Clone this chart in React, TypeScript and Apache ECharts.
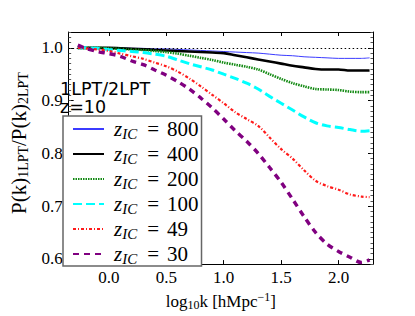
import React, { useEffect, useRef } from 'react';
import * as echarts from 'echarts';

const logK = [-0.27, -0.2, -0.1, 0.0, 0.1, 0.2, 0.3, 0.4, 0.5, 0.6, 0.7, 0.8, 0.9, 1.0, 1.1, 1.2, 1.3, 1.4, 1.5, 1.6, 1.7, 1.8, 1.9, 2.0, 2.1, 2.2, 2.27];
const zIC = ['800', '400', '200', '100', '49', '30'];
const ratio800 = [1.0, 1.0, 1.0, 1.0, 1.0, 0.999, 0.999, 0.998, 0.998, 0.997, 0.996, 0.995, 0.994, 0.993, 0.992, 0.991, 0.990, 0.988, 0.986, 0.985, 0.983, 0.982, 0.981, 0.980, 0.980, 0.980, 0.981];
const ratio400 = [1.0, 1.0, 1.0, 1.0, 0.999, 0.998, 0.997, 0.996, 0.995, 0.994, 0.993, 0.992, 0.991, 0.990, 0.986, 0.982, 0.978, 0.974, 0.970, 0.966, 0.963, 0.960, 0.959, 0.959, 0.957, 0.957, 0.957];
const ratio200 = [1.0, 1.0, 1.0, 0.999, 0.998, 0.997, 0.996, 0.994, 0.992, 0.989, 0.985, 0.981, 0.977, 0.972, 0.968, 0.964, 0.959, 0.950, 0.941, 0.933, 0.927, 0.922, 0.921, 0.920, 0.917, 0.916, 0.916];
const ratio100 = [1.0, 1.0, 0.999, 0.997, 0.995, 0.993, 0.991, 0.988, 0.984, 0.977, 0.970, 0.964, 0.958, 0.950, 0.942, 0.933, 0.922, 0.908, 0.895, 0.882, 0.869, 0.858, 0.852, 0.849, 0.845, 0.842, 0.843];
const ratio49 = [1.0, 0.999, 0.997, 0.994, 0.989, 0.984, 0.979, 0.972, 0.965, 0.955, 0.942, 0.927, 0.911, 0.895, 0.878, 0.865, 0.852, 0.830, 0.808, 0.790, 0.768, 0.748, 0.738, 0.731, 0.722, 0.718, 0.717];
const ratio30 = [1.005, 0.999, 0.993, 0.989, 0.984, 0.975, 0.968, 0.958, 0.948, 0.936, 0.922, 0.905, 0.886, 0.865, 0.843, 0.823, 0.800, 0.773, 0.745, 0.713, 0.680, 0.650, 0.628, 0.614, 0.603, 0.593, 0.598];
const xTicks = [0.0, 0.5, 1.0, 1.5, 2.0];
const yTicks = [0.6, 0.7, 0.8, 0.9, 1.0];

const allRatios = [ratio800, ratio400, ratio200, ratio100, ratio49, ratio30];
const styles = [
  { color: '#3b3bff', width: 1, type: 'solid' as any },
  { color: '#000000', width: 2.6, type: 'solid' as any },
  { color: '#138a13', width: 2.6, type: [1.5, 1] as any },
  { color: '#00ffff', width: 3, type: [9, 4] as any },
  { color: '#ff1a1a', width: 2.2, type: [3, 2, 1, 2] as any },
  { color: '#800080', width: 3.4, type: [6, 5] as any },
];

const SERIF = 'Liberation Serif';

export default function App() {
  const ref = useRef<HTMLDivElement>(null);
  useEffect(() => {
    if (!ref.current) return;
    const chart = echarts.init(ref.current, null, { renderer: 'svg' });
    const series: any[] = zIC.map((name, i) => ({
      name,
      type: 'line',
      xAxisIndex: 0,
      yAxisIndex: 0,
      data: logK.map((x, j) => [x, allRatios[i][j]]),
      showSymbol: false,
      symbol: 'none',
      smooth: 0.3,
      lineStyle: { ...styles[i] },
      itemStyle: { color: styles[i].color },
      z: 2 + i,
      markLine: i === 0 ? {
        silent: true,
        symbol: 'none',
        label: { show: false },
        lineStyle: { color: '#000', type: [1.5, 2.5], width: 1 },
        data: [{ yAxis: 1.0 }],
      } : undefined,
    }));

    const axisLine = { show: true, onZero: false, lineStyle: { color: '#000', width: 1 } };
    chart.setOption({
      animation: false,
      backgroundColor: '#fff',
      grid: { left: 52, top: 32, right: 42, bottom: 40, containLabel: false },
      xAxis: [
        {
          type: 'value', position: 'bottom', min: -0.35, max: 2.3,
          axisLine,
          axisTick: { show: true, inside: true, length: 4, customValues: xTicks, lineStyle: { color: '#000' } },
          axisLabel: { show: true, customValues: xTicks, formatter: (v: number) => v.toFixed(1), fontFamily: SERIF, fontSize: 17, color: '#000', margin: 5 },
          splitLine: { show: false },
          name: '{a|log}{s|10}{a|k [hMpc}{p|−1}{a|]}',
          nameLocation: 'middle',
          nameGap: 24,
          nameTextStyle: {
            rich: {
              a: { fontFamily: SERIF, fontSize: 17, color: '#000', lineHeight: 20, verticalAlign: 'middle' },
              s: { fontFamily: SERIF, fontSize: 12, color: '#000', lineHeight: 20, verticalAlign: 'bottom' },
              p: { fontFamily: SERIF, fontSize: 12, color: '#000', lineHeight: 20, verticalAlign: 'top' },
            },
          },
        },
        {
          type: 'value', position: 'top', min: -0.35, max: 2.3,
          axisLine,
          axisTick: { show: true, inside: true, length: 4, customValues: xTicks, lineStyle: { color: '#000' } },
          axisLabel: { show: false },
          splitLine: { show: false },
        },
      ],
      yAxis: [
        {
          type: 'value', position: 'left', min: 0.59, max: 1.03,
          axisLine,
          axisTick: { show: true, inside: true, length: 5, customValues: yTicks, lineStyle: { color: '#000' } },
          axisLabel: { show: true, customValues: yTicks, formatter: (v: number) => v.toFixed(1), fontFamily: SERIF, fontSize: 17, color: '#000', margin: 6 },
          splitLine: { show: false },
          name: '{a|P(k)}{s|1LPT}{a|/P(k)}{s|2LPT}',
          nameLocation: 'middle',
          nameRotate: 90,
          nameGap: 27,
          nameTextStyle: {
            padding: [0, 0, 0, 10],
            rich: {
              a: { fontFamily: SERIF, fontSize: 21, color: '#000', lineHeight: 24, verticalAlign: 'middle' },
              s: { fontFamily: SERIF, fontSize: 14, color: '#000', lineHeight: 24, verticalAlign: 'bottom' },
            },
          },
        },
        {
          type: 'value', position: 'right', min: 0.59, max: 1.03,
          axisLine,
          axisTick: { show: true, inside: true, length: 5, customValues: yTicks, lineStyle: { color: '#000' } },
          axisLabel: { show: false },
          splitLine: { show: false },
        },
        {
          type: 'value', position: 'left', min: 0.59, max: 1.03, interval: 0.01,
          axisLine: { show: false, onZero: false },
          axisTick: { show: true, inside: true, length: 2.5, lineStyle: { color: '#555' } },
          axisLabel: { show: false },
          splitLine: { show: false },
        },
        {
          type: 'value', position: 'right', min: 0.59, max: 1.03, interval: 0.01,
          axisLine: { show: false, onZero: false },
          axisTick: { show: true, inside: true, length: 2.5, lineStyle: { color: '#555' } },
          axisLabel: { show: false },
          splitLine: { show: false },
        },
      ],
      legend: {
        show: true,
        orient: 'vertical',
        left: 63,
        top: 116,
        padding: [1, 3, 0, 9],
        itemGap: 1,
        itemWidth: 31,
        itemHeight: 14,
        backgroundColor: '#fff',
        borderColor: '#666',
        borderWidth: 1.5,
        data: zIC,
        itemStyle: { opacity: 0 },
        formatter: (name: string) => `{z|z}{s|IC}{q|=}{e|${name}}`,
        textStyle: {
          lineHeight: 24,
          rich: {
            z: { fontFamily: SERIF, fontStyle: 'italic', fontSize: 21, color: '#000', lineHeight: 24, verticalAlign: 'middle', padding: [0, 0, 0, 5] },
            s: { fontFamily: SERIF, fontStyle: 'italic', fontSize: 15, color: '#000', lineHeight: 24, verticalAlign: 'bottom', padding: [0, 5, 0, 0] },
            q: { fontFamily: SERIF, fontSize: 21, color: '#000', lineHeight: 24, verticalAlign: 'middle', padding: [0, 8, 0, 5] },
            e: { fontFamily: SERIF, fontSize: 21, color: '#000', lineHeight: 24, verticalAlign: 'middle' },
          },
        },
      },
      graphic: [
        { type: 'text', left: 60, top: 80, style: { text: '1LPT/2LPT', fontFamily: 'DejaVu Sans', fontSize: 17.5, lineHeight: 15, fill: '#000' } },
        { type: 'text', left: 60, top: 98, style: { text: 'z=10', fontFamily: 'DejaVu Sans', fontSize: 17.5, lineHeight: 15, fill: '#000' } },
      ],
      series,
    });
    return () => chart.dispose();
  }, []);
  return <div ref={ref} style={{ width: 415, height: 316, position: 'absolute', left: 0, top: 0 }} />;
}
